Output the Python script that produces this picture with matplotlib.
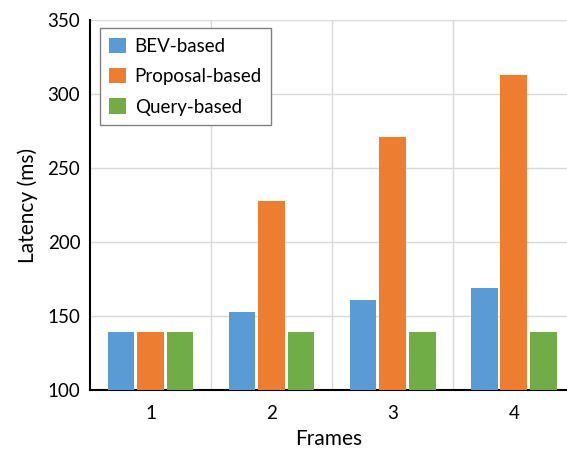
import numpy as np
import matplotlib
matplotlib.use('Agg')
import matplotlib.pyplot as plt

matplotlib.rc('font', family=['Lato', 'DejaVu Sans'], size=13.5)

frames = ['1', '2', '3', '4']
series = ['BEV-based', 'Proposal-based', 'Query-based']
bev = [139, 153, 161, 169]
proposal = [139, 228, 271, 313]
query = [139, 139, 139, 139]
colors = ['#5B9BD5', '#ED7D31', '#70AD47']

fig = plt.figure(figsize=(5.67, 4.57), dpi=100)
ax = fig.add_axes([90/567, (457-390)/457, (567-90)/567, (390-20)/457])

x = np.arange(1, len(frames) + 1)
width = 0.22
step = 0.244
for i, (vals, name) in enumerate(zip([bev, proposal, query], series)):
    ax.bar(x + (i - 1) * step, np.array(vals) - 100, width, bottom=100,
           color=colors[i], label=name, zorder=3)

ax.set_ylim(100, 350)
ax.set_yticks(np.arange(100, 351, 50))
ax.set_xlim(0.5, 4.44)
ax.set_xticks(x)
ax.set_xticklabels(frames)
ax.set_xticks(np.arange(1.5, 4.5, 1), minor=True)
ax.tick_params(axis='both', which='both', length=0, labelsize=13.5)
ax.tick_params(axis='x', pad=11)
ax.tick_params(axis='y', pad=7)
ax.grid(axis='y', color='#d9d9d9', linewidth=1, zorder=0)
ax.grid(axis='x', which='minor', color='#d9d9d9', linewidth=1, zorder=0)
for s in ['top', 'right']:
    ax.spines[s].set_visible(False)
ax.spines['left'].set_linewidth(1.5)
ax.spines['bottom'].set_linewidth(1.5)

ax.set_xlabel('Frames', fontsize=15, labelpad=5)
ax.set_ylabel('Latency (ms)', fontsize=15, labelpad=7)

leg = ax.legend(loc='upper left', bbox_to_anchor=(0.021, 0.978), borderaxespad=0,
                fancybox=False, edgecolor='#808080', framealpha=1, fontsize=13.5,
                handlelength=0.9, handleheight=0.9, handletextpad=0.45,
                borderpad=0.5, labelspacing=0.7)
leg.get_frame().set_linewidth(1)

fig.savefig('out.png', dpi=100)
